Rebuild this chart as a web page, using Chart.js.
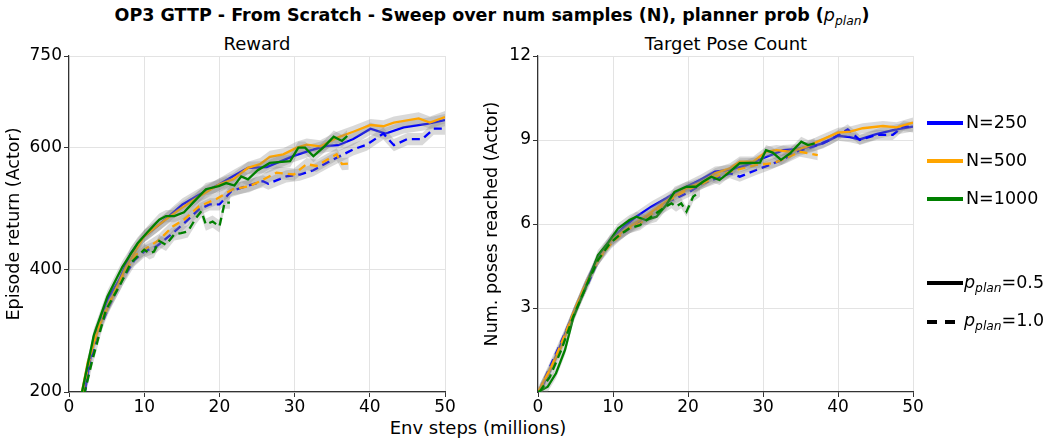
<!DOCTYPE html>
<html>
<head>
<meta charset="utf-8">
<script src="https://cdn.jsdelivr.net/npm/chart.js@4.4.0/dist/chart.umd.min.js"></script>
<style>
  body { margin: 0; background: #fff; }
  #fig { position: relative; width: 1051px; height: 438px; overflow: hidden; font-family: "DejaVu Sans", sans-serif; color: #000; }
  .txt { position: absolute; white-space: nowrap; transform: translate(-50%, -50%); line-height: 1; }
  .lg { position: absolute; white-space: nowrap; font-size: 17.5px; line-height: 1; transform: translateY(-50%); }
  .sw { position: absolute; height: 4px; }
  canvas { position: absolute; }
  sub { font-size: 0.7em; vertical-align: -0.3em; }
</style>
</head>
<body>
<div id="fig">
  <div class="txt" style="left:492px;top:17px;font-size:17.5px;font-weight:bold;">OP3 GTTP - From Scratch - Sweep over num samples (N), planner prob (<i style="font-weight:normal">p</i><sub><i style="font-weight:normal">plan</i></sub>)</div>
  <div class="txt" style="left:257px;top:44px;font-size:18px;">Reward</div>
  <div class="txt" style="left:726px;top:44px;font-size:18px;">Target Pose Count</div>
  <div class="txt" style="left:478px;top:428px;font-size:18px;">Env steps (millions)</div>

  <canvas id="rewardChart" width="465" height="392" style="left:0;top:30px;"></canvas>
  <canvas id="poseChart" width="455" height="392" style="left:478px;top:30px;"></canvas>

  <div class="sw" style="left:927px;top:121px;width:36px;background:#0000ff;"></div>
  <div class="lg" style="left:966px;top:123px;">N=250</div>
  <div class="sw" style="left:927px;top:159px;width:36px;background:#ffa500;"></div>
  <div class="lg" style="left:966px;top:161px;">N=500</div>
  <div class="sw" style="left:927px;top:197px;width:36px;background:#008000;"></div>
  <div class="lg" style="left:966px;top:199px;">N=1000</div>

  <div class="sw" style="left:927px;top:281px;width:36px;background:#000;"></div>
  <div class="lg" style="left:964px;top:284px;"><i>p</i><sub><i>plan</i></sub>=0.5</div>
  <div class="sw" style="left:927px;top:320px;width:10px;background:#000;"></div>
  <div class="sw" style="left:945px;top:320px;width:10px;background:#000;"></div>
  <div class="lg" style="left:964px;top:322px;"><i>p</i><sub><i>plan</i></sub>=1.0</div>
</div>

<script>
'use strict';

const FONT = '"DejaVu Sans", sans-serif';

// x ticks (env steps, millions) and y ticks for each panel
const stepTicks = [0, 10, 20, 30, 40, 50];
const rewardTicks = [200, 400, 600, 750];
const poseTicks = [3, 6, 9, 12];

// Reward panel: [env steps (M), episode return]
const reward250Solid = [[2.0,192],[3.3,290],[5.1,351],[6.7,384],[8.2,427],[10,455],[12,474],[15.1,507],[17.3,523],[20,540],[21.8,553],[23.8,567],[26.3,568],[29.8,586],[32,595],[34.3,603],[35.8,604],[37.8,614],[40.1,631],[42.1,623],[44.5,633],[47.6,639],[50,645]];
const reward500Solid = [[1.6,192],[2.5,249],[4,307],[5.8,356],[7.6,405],[10,455],[12.5,479],[14.7,499],[17.3,520],[20,540],[21.8,548],[23.8,567],[25.4,573],[26.7,585],[28.5,589],[30.3,600],[31.6,605],[33.4,602],[35.6,616],[37.8,626],[40.1,637],[41.8,635],[43.2,641],[46.5,648],[48,641],[50,650]];
const reward1000Solid = [[1.6,192],[3.3,293],[5.1,356],[7.1,405],[9.1,443],[10.4,461],[12,482],[12.9,488],[14,488],[15.3,494],[16.5,510],[18.2,532],[19.9,537],[20.9,542],[22,538],[22.9,553],[23.8,548],[25.1,563],[26.7,575],[29.4,578],[30.5,600],[31.4,600],[32.5,586],[33.8,600],[35.2,618],[36.3,611],[37,619]];
const reward250Dash = [[2,195],[3.5,285],[5.3,340],[7.1,384],[8.7,416],[10,430],[11.6,438],[13.3,455],[15.1,474],[17.3,499],[18.7,507],[20,507],[21.6,529],[23.6,537],[25.8,545],[26.5,541],[28.9,553],[30.7,556],[32.5,563],[34.7,578],[36.5,589],[37.8,597],[39.6,605],[41.8,623],[43.2,604],[45,614],[47,614],[48.5,631],[50,631]];
const reward500Dash = [[1.8,200],[3.5,296],[5.3,345],[7.1,389],[8.9,425],[10,433],[12,449],[13.8,471],[15.3,482],[17.3,504],[19.6,516],[21.8,532],[24,537],[25.4,545],[27.6,559],[29.9,556],[31.6,573],[32.9,570],[35.6,589],[36.3,573],[37.2,574]];
const reward1000Dash = [[2,195],[3.1,252],[4.9,334],[6.9,378],[8.2,411],[10,433],[10.7,427],[11.3,430],[12,447],[12.9,441],[14,458],[14.9,460],[15.8,463],[16.9,485],[17.6,496],[18.2,474],[19.1,479],[20,471],[20.7,510],[21.4,510]];

// Target pose panel: [env steps (M), poses reached]
const pose250Solid = [[0.2,0],[2,1.0],[3.3,1.86],[4.7,2.8],[6.2,3.76],[7.8,4.7],[9.6,5.43],[11.3,5.85],[13.1,6.26],[15.1,6.62],[17.1,6.92],[19.3,7.27],[21.6,7.57],[23.6,7.87],[25.6,7.93],[27.8,8.1],[30,8.35],[32.7,8.64],[34.4,8.67],[36.7,8.79],[38,8.88],[40,9.15],[41.6,9.1],[42.9,9.02],[45.1,9.21],[47.8,9.38],[50,9.48]];
const pose500Solid = [[0,0],[1.6,0.8],[3.1,1.6],[4.7,2.8],[6.2,3.76],[7.8,4.6],[9.6,5.37],[11.3,5.73],[13.6,6.14],[15.8,6.56],[18,6.98],[20.2,7.33],[22,7.51],[23.6,7.81],[25.6,7.99],[26.9,8.23],[28.7,8.23],[30.4,8.58],[31.8,8.64],[33.6,8.58],[35.8,8.76],[37.6,8.98],[40,9.26],[41.6,9.3],[43.3,9.42],[46,9.5],[47.8,9.45],[50,9.62]];
const pose1000Solid = [[0,0],[1.3,0.19],[2.4,0.67],[3.6,1.5],[4.7,2.65],[6.4,3.76],[8,4.89],[9.3,5.31],[10.7,5.85],[12.2,6.14],[13.1,6.26],[14.4,6.14],[15.8,6.26],[17.1,6.68],[18.2,7.15],[19.8,7.33],[21.1,7.33],[22,7.51],[23.1,7.69],[24.2,7.57],[25.6,7.87],[26.9,8.17],[29.6,8.19],[30.4,8.64],[31.3,8.55],[32.4,8.29],[33.6,8.52],[35.1,8.94],[36,8.82],[36.9,8.88]];
const pose250Dash = [[0.2,0.06],[2,1.14],[3.6,2.1],[5.1,3.05],[6.7,3.88],[8.2,4.83],[9.8,5.43],[11.3,5.67],[13.1,6.02],[14.9,6.32],[16.7,6.74],[18.4,6.92],[20.2,7.15],[22,7.45],[23.8,7.63],[25.6,7.81],[26.9,7.69],[29.1,7.93],[30.9,8.11],[32.7,8.31],[34.4,8.58],[36.7,8.76],[38.9,9.0],[41.3,9.38],[42.9,9.0],[45.1,9.18],[47.3,9.18],[48.7,9.5],[50,9.45]];
const pose500Dash = [[0.2,0.06],[1.8,0.9],[3.3,1.86],[4.9,2.93],[6.4,3.88],[8,4.71],[9.8,5.31],[11.8,5.79],[13.6,6.02],[15.6,6.44],[17.6,6.86],[19.8,7.21],[22,7.45],[24.2,7.75],[26.4,7.93],[29.1,8.11],[31.3,8.17],[33.1,8.35],[34.9,8.58],[36.2,8.52],[37.3,8.46]];
const pose1000Dash = [[0.2,0],[1.6,0.55],[3.1,1.5],[4.7,2.69],[6.4,3.76],[8,4.71],[9.6,5.31],[10.9,5.61],[12.2,5.85],[13.6,5.96],[15.1,6.26],[16.7,6.56],[17.8,6.74],[18.4,6.62],[19.1,6.74],[19.8,6.44],[20.7,6.98],[21.6,7.15]];

// half-width of the grey seed band in each panel
const rewardSpread = 10;
const poseSpread = 0.18;

const BLUE = '#0000ff', ORANGE = '#ffa500', GREEN = '#008000';
const BAND = 'rgba(128,128,128,0.3)';

function toXY(pts, shift) {
  return pts.map(p => ({ x: p[0], y: p[1] + shift }));
}

// band (lower + upper filled) then line, in matplotlib plotting order
function buildDatasets(series, spread) {
  const out = [];
  series.forEach((s, k) => {
    out.push({ data: toXY(s.pts, -spread), borderWidth: 0, pointRadius: 0, fill: false, order: 100 - 3 * k });
    out.push({ data: toXY(s.pts, spread), borderWidth: 0, pointRadius: 0, fill: '-1', backgroundColor: BAND, order: 99 - 3 * k });
    out.push({
      data: toXY(s.pts, 0), borderColor: s.color, borderWidth: 2.3, pointRadius: 0,
      borderDash: s.dashed ? [8, 5] : [], fill: false, tension: 0, order: 98 - 3 * k,
    });
  });
  return out;
}

function makeChart(canvasId, series, spread, yMin, yMax, yTicks, yTitle, yWidth) {
  return new Chart(document.getElementById(canvasId).getContext('2d'), {
    type: 'line',
    data: { datasets: buildDatasets(series, spread) },
    options: {
      responsive: false,
      animation: false,
      devicePixelRatio: 1,
      layout: { padding: { top: 26, right: 20, left: 0, bottom: 0 } },
      plugins: { legend: { display: false }, tooltip: { enabled: false } },
      scales: {
        x: {
          type: 'linear', min: 0, max: 50,
          afterBuildTicks: s => { s.ticks = stepTicks.map(v => ({ value: v })); },
          afterFit: s => { s.height = 30; },
          grid: { color: '#e3e3e3', lineWidth: 1, tickLength: 5, tickColor: '#333' },
          border: { display: true, color: '#333', width: 1.2 },
          ticks: { color: '#000', font: { family: FONT, size: 17 }, padding: 0, maxRotation: 0 },
        },
        y: {
          type: 'linear', min: yMin, max: yMax,
          afterBuildTicks: s => { s.ticks = yTicks.map(v => ({ value: v })); },
          afterFit: s => { s.width = yWidth; },
          grid: { color: '#e3e3e3', lineWidth: 1, tickLength: 5, tickColor: '#333' },
          border: { display: true, color: '#333', width: 1.2 },
          ticks: { color: '#000', font: { family: FONT, size: 17 }, padding: 2 },
          title: { display: true, text: yTitle, color: '#000', font: { family: FONT, size: 17.5 }, padding: { top: 4, bottom: 0 } },
        },
      },
    },
  });
}

makeChart('rewardChart', [
  { pts: reward250Solid, color: BLUE, dashed: false },
  { pts: reward250Dash, color: BLUE, dashed: true },
  { pts: reward500Solid, color: ORANGE, dashed: false },
  { pts: reward500Dash, color: ORANGE, dashed: true },
  { pts: reward1000Solid, color: GREEN, dashed: false },
  { pts: reward1000Dash, color: GREEN, dashed: true },
], rewardSpread, 200, 750, rewardTicks, 'Episode return (Actor)', 69);

makeChart('poseChart', [
  { pts: pose250Solid, color: BLUE, dashed: false },
  { pts: pose250Dash, color: BLUE, dashed: true },
  { pts: pose500Solid, color: ORANGE, dashed: false },
  { pts: pose500Dash, color: ORANGE, dashed: true },
  { pts: pose1000Solid, color: GREEN, dashed: false },
  { pts: pose1000Dash, color: GREEN, dashed: true },
], poseSpread, 0, 12, poseTicks, 'Num. poses reached (Actor)', 60);
</script>
</body>
</html>
